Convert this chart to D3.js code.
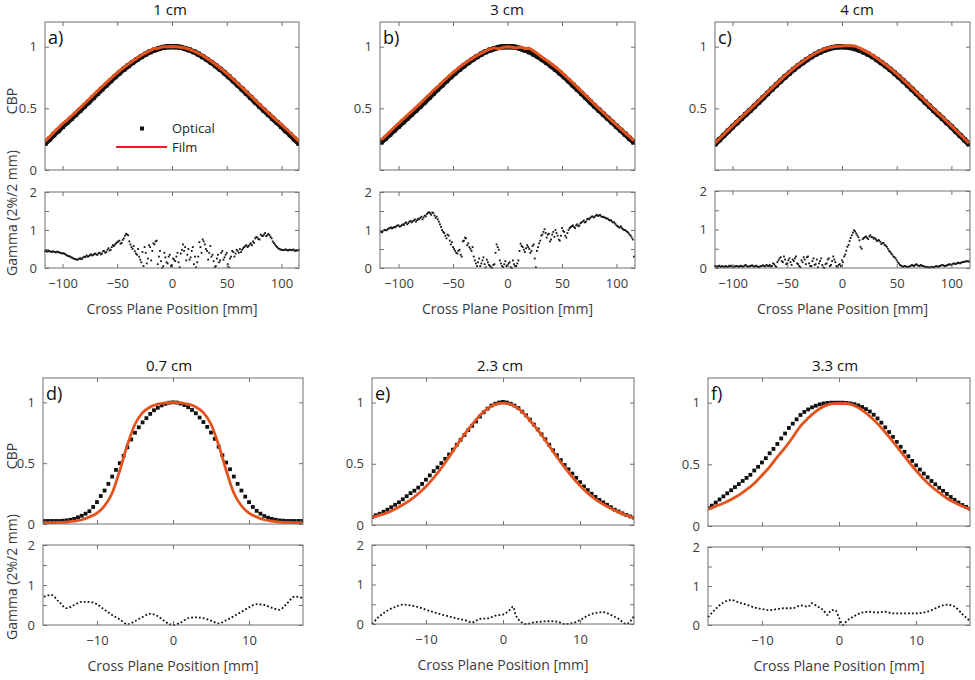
<!DOCTYPE html>
<html><head><meta charset="utf-8">
<script src="https://cdn.jsdelivr.net/npm/d3@7"></script>
<style>
body{margin:0;background:#fff}
text{font-family:"Open Sans","Noto Sans",sans-serif}
</style>
</head><body>
<script>
// ---------------- DATA ----------------
// wide profiles (1, 3, 4 cm), positions in mm
const posWide = [-116,-112,-108,-104,-100,-96,-92,-88,-84,-80,-76,-72,-68,-64,-60,-56,-52,-48,-44,-40,-36,-32,-28,-24,-20,-16,-12,-8,-4,0,4,8,12,16,20,24,28,32,36,40,44,48,52,56,60,64,68,72,76,80,84,88,92,96,100,104,108,112,116];
const opticalA = [0.215,0.25,0.285,0.318,0.352,0.385,0.418,0.451,0.484,0.518,0.552,0.587,0.622,0.656,0.69,0.723,0.756,0.787,0.817,0.845,0.871,0.896,0.919,0.94,0.958,0.973,0.985,0.994,0.999,1.0,0.999,0.994,0.985,0.973,0.958,0.94,0.919,0.896,0.871,0.845,0.817,0.787,0.756,0.723,0.69,0.656,0.622,0.587,0.552,0.518,0.484,0.451,0.418,0.385,0.352,0.318,0.285,0.25,0.215];
const filmA = [0.232,0.268,0.305,0.34,0.375,0.405,0.437,0.47,0.503,0.537,0.572,0.607,0.641,0.675,0.708,0.741,0.773,0.803,0.832,0.858,0.884,0.907,0.93,0.95,0.968,0.985,0.988,1.0,1.0,1.002,1.0,0.996,0.99,0.978,0.964,0.947,0.928,0.905,0.881,0.855,0.827,0.798,0.767,0.735,0.702,0.668,0.634,0.6,0.565,0.53,0.497,0.463,0.43,0.398,0.367,0.335,0.302,0.268,0.232];
const opticalB = [0.225,0.257,0.29,0.322,0.355,0.387,0.42,0.452,0.485,0.518,0.552,0.587,0.622,0.656,0.69,0.723,0.756,0.787,0.817,0.845,0.871,0.896,0.919,0.94,0.958,0.973,0.985,0.994,0.999,1.0,0.999,0.994,0.985,0.973,0.958,0.94,0.919,0.896,0.871,0.845,0.817,0.787,0.756,0.723,0.69,0.656,0.622,0.587,0.552,0.518,0.485,0.452,0.42,0.387,0.355,0.322,0.29,0.257,0.225];
const filmB = [0.245,0.275,0.31,0.345,0.378,0.41,0.442,0.475,0.507,0.54,0.576,0.61,0.645,0.676,0.71,0.742,0.775,0.804,0.834,0.86,0.886,0.905,0.93,0.948,0.966,0.98,0.99,0.982,0.995,1.0,0.995,0.99,0.998,0.985,0.988,0.965,0.94,0.912,0.888,0.862,0.835,0.805,0.773,0.74,0.707,0.672,0.638,0.603,0.568,0.532,0.498,0.464,0.43,0.397,0.365,0.333,0.3,0.27,0.238];
const opticalC = [0.21,0.245,0.28,0.315,0.35,0.383,0.417,0.45,0.483,0.517,0.551,0.586,0.621,0.655,0.689,0.722,0.755,0.786,0.816,0.844,0.87,0.895,0.918,0.939,0.957,0.972,0.984,0.993,0.998,1.0,0.998,0.993,0.984,0.972,0.957,0.939,0.918,0.895,0.87,0.844,0.816,0.786,0.755,0.722,0.689,0.655,0.621,0.586,0.551,0.517,0.483,0.45,0.417,0.383,0.35,0.315,0.28,0.245,0.21];
const filmC = [0.218,0.253,0.288,0.323,0.358,0.392,0.426,0.459,0.492,0.526,0.56,0.595,0.63,0.664,0.698,0.731,0.764,0.795,0.825,0.853,0.879,0.904,0.926,0.947,0.965,0.98,0.992,1.0,1.003,1.005,1.01,1.008,1.005,0.99,0.972,0.952,0.93,0.906,0.88,0.853,0.825,0.795,0.764,0.731,0.698,0.664,0.63,0.595,0.56,0.526,0.492,0.459,0.426,0.392,0.358,0.323,0.288,0.253,0.218];

// gamma (2%/2 mm) for wide profiles, 1 mm steps
const posGammaWide = [-116,-115,-114,-113,-112,-111,-110,-109,-108,-107,-106,-105,-104,-103,-102,-101,-100,-99,-98,-97,-96,-95,-94,-93,-92,-91,-90,-89,-88,-87,-86,-85,-84,-83,-82,-81,-80,-79,-78,-77,-76,-75,-74,-73,-72,-71,-70,-69,-68,-67,-66,-65,-64,-63,-62,-61,-60,-59,-58,-57,-56,-55,-54,-53,-52,-51,-50,-49,-48,-47,-46,-45,-44,-43,-42,-41,-40,-39,-38,-37,-36,-35,-34,-33,-32,-31,-30,-29,-28,-27,-26,-25,-24,-23,-22,-21,-20,-19,-18,-17,-16,-15,-14,-13,-12,-11,-10,-9,-8,-7,-6,-5,-4,-3,-2,-1,0,1,2,3,4,5,6,7,8,9,10,11,12,13,14,15,16,17,18,19,20,21,22,23,24,25,26,27,28,29,30,31,32,33,34,35,36,37,38,39,40,41,42,43,44,45,46,47,48,49,50,51,52,53,54,55,56,57,58,59,60,61,62,63,64,65,66,67,68,69,70,71,72,73,74,75,76,77,78,79,80,81,82,83,84,85,86,87,88,89,90,91,92,93,94,95,96,97,98,99,100,101,102,103,104,105,106,107,108,109,110,111,112,113,114,115,116];
const gammaA = [.44,.45,.43,.44,.45,.43,.42,.44,.43,.42,
.41,.43,.42,.41,.40,.39,.38,.39,.37,.35,
.33,.32,.31,.30,.28,.27,.25,.24,.23,.22,
.22,.24,.26,.23,.25,.28,.30,.29,.33,.30,
.31,.34,.36,.33,.34,.37,.38,.35,.35,.39,
.40,.36,.38,.44,.45,.40,.42,.48,.52,.46,
.48,.55,.60,.58,.62,.65,.68,.70,.72,.64,
.66,.74,.78,.85,.90,.88,.86,.70,.62,.55,
.50,.58,.44,.38,.35,.50,.30,.22,.15,.42,
.05,.55,.40,.12,.25,.60,.55,.20,.45,.65,
.62,.70,.72,.10,.30,.45,.18,.00,.05,.40,
.28,.15,.12,.30,.35,.05,.08,.25,.22,.18,
.30,.40,.15,.02,.38,.48,.62,.45,.55,.20,
.35,.50,.22,.28,.45,.55,.10,.30,.02,.15,
.30,.68,.55,.40,.75,.70,.62,.50,.45,.22,
.40,.58,.30,.35,.18,.02,.05,.25,.35,.15,
.20,.40,.45,.22,.28,.35,.40,.10,.02,.25,
.30,.45,.42,.30,.38,.48,.45,.40,.50,.42,
.48,.52,.55,.58,.60,.55,.58,.62,.65,.60,
.70,.66,.78,.82,.80,.76,.75,.88,.85,.84,
.88,.92,.84,.86,.90,.87,.82,.78,.70,.66,
.62,.58,.55,.52,.50,.49,.48,.47,.47,.48,
.49,.47,.46,.48,.48,.47,.47,.49,.45,.46,
.46,.47,.48];
const gammaB = [.95,.94,.98,1.00,1.00,.99,1.02,1.04,1.05,1.07,
1.04,1.06,1.08,1.07,1.10,1.12,1.12,1.09,1.10,1.13,
1.15,1.13,1.18,1.20,1.15,1.18,1.22,1.24,1.20,1.23,
1.25,1.28,1.22,1.26,1.30,1.28,1.32,1.35,1.28,1.33,
1.38,1.36,1.42,1.45,1.47,1.44,1.40,1.46,1.45,1.38,
1.32,1.35,1.28,1.22,1.15,1.08,1.00,.95,.92,.85,
.78,.88,.85,.72,.62,.68,.55,.50,.45,.40,
.38,.45,.48,.35,.30,.70,.72,.80,.78,.60,
.65,.55,.50,.45,.55,.30,.20,.12,.05,.15,
.25,.05,.12,.20,.28,.10,.02,.22,.15,.08,
.05,.02,.00,.08,.10,.40,.62,.55,.48,.20,
.12,.05,.02,.10,.18,.05,.08,.12,.15,.02,
.00,.20,.10,.05,.05,.12,.20,.45,.64,.58,
.55,.48,.42,.52,.60,.55,.50,.40,.45,.58,
.62,.25,.02,.45,.55,.65,.72,.85,.88,.95,
1.02,.92,.80,.88,.90,.70,.75,.88,.95,.82,
1.00,.92,.85,.75,.72,.85,1.05,.98,.95,.85,
.80,.92,1.00,1.05,1.08,1.10,1.12,1.08,1.05,1.12,
1.15,1.10,1.12,1.18,1.20,1.22,1.25,1.20,1.22,1.28,
1.30,1.28,1.32,1.35,1.36,1.33,1.35,1.38,1.40,1.37,
1.38,1.40,1.36,1.34,1.35,1.33,1.32,1.30,1.30,1.27,
1.25,1.26,1.22,1.20,1.20,1.16,1.12,1.10,1.08,1.06,
1.10,1.05,1.02,1.00,1.00,.97,.95,.92,.88,.85,
.80,.75,.30];
const gammaC = [.05,.04,.03,.05,.06,.03,.04,.05,.02,.04,
.05,.03,.03,.06,.04,.06,.02,.03,.04,.05,
.05,.04,.03,.05,.06,.03,.04,.06,.08,.05,
.03,.04,.05,.06,.07,.04,.04,.05,.06,.03,
.02,.04,.05,.06,.07,.05,.04,.08,.06,.05,
.08,.04,.05,.12,.10,.06,.03,.15,.20,.25,
.28,.18,.15,.30,.22,.10,.12,.20,.25,.15,
.08,.22,.18,.25,.30,.12,.10,.05,.02,.20,
.15,.28,.22,.10,.28,.30,.12,.05,.05,.18,
.25,.08,.10,.22,.02,.12,.18,.25,.08,.02,
.00,.10,.12,.22,.25,.05,.08,.18,.30,.22,
.15,.05,.02,.08,.10,.05,.20,.15,.30,.35,
.45,.55,.60,.70,.78,.85,.92,.98,.95,.90,
.85,.80,.72,.55,.50,.75,.78,.80,.82,.78,
.75,.82,.85,.80,.80,.76,.78,.74,.70,.72,
.72,.68,.62,.65,.65,.60,.58,.55,.50,.45,
.42,.38,.35,.30,.28,.25,.20,.15,.12,.08,
.06,.04,.03,.05,.05,.03,.02,.04,.04,.06,
.08,.06,.05,.08,.10,.07,.06,.05,.08,.06,
.05,.04,.03,.03,.02,.02,.01,.02,.03,.02,
.02,.03,.05,.04,.03,.05,.06,.07,.08,.06,
.05,.06,.07,.08,.10,.09,.08,.10,.12,.11,
.10,.12,.14,.13,.12,.14,.15,.16,.16,.17,
.18,.17,.17];

// narrow profiles (0.7, 2.3, 3.3 cm)
const posNarrowOptical = [-17,-16.5,-16,-15.5,-15,-14.5,-14,-13.5,-13,-12.5,-12,-11.5,-11,-10.5,-10,-9.5,-9,-8.5,-8,-7.5,-7,-6.5,-6,-5.5,-5,-4.5,-4,-3.5,-3,-2.5,-2,-1.5,-1,-0.5,0,0.5,1,1.5,2,2.5,3,3.5,4,4.5,5,5.5,6,6.5,7,7.5,8,8.5,9,9.5,10,10.5,11,11.5,12,12.5,13,13.5,14,14.5,15,15.5,16,16.5,17];
const posNarrowFilm = [-17,-16,-15,-14,-13,-12,-11,-10,-9,-8,-7,-6,-5,-4,-3,-2,-1,0,1,2,3,4,5,6,7,8,9,10,11,12,13,14,15,16,17];
const opticalD = [0.025,0.025,0.025,0.025,0.025,0.027,0.03,0.035,0.042,0.055,0.068,0.085,0.105,0.14,0.18,0.23,0.275,0.33,0.39,0.445,0.50,0.56,0.63,0.695,0.75,0.795,0.835,0.87,0.905,0.935,0.955,0.975,0.988,0.997,1.0,0.998,0.99,0.978,0.96,0.937,0.91,0.875,0.838,0.798,0.752,0.70,0.635,0.565,0.505,0.45,0.39,0.33,0.275,0.225,0.18,0.14,0.108,0.085,0.066,0.052,0.042,0.035,0.03,0.027,0.025,0.025,0.025,0.025,0.025];
const filmD = [0.012,0.012,0.013,0.016,0.024,0.035,0.058,0.09,0.15,0.255,0.44,0.65,0.82,0.915,0.962,0.985,0.996,1.0,0.996,0.985,0.962,0.915,0.82,0.65,0.44,0.255,0.15,0.09,0.058,0.035,0.024,0.016,0.013,0.012,0.012];
const opticalE = [0.065,0.08,0.092,0.108,0.125,0.145,0.165,0.185,0.21,0.235,0.26,0.28,0.305,0.335,0.37,0.405,0.44,0.47,0.505,0.54,0.575,0.615,0.655,0.695,0.735,0.775,0.81,0.845,0.885,0.92,0.95,0.975,0.99,1.0,1.005,1.0,0.99,0.975,0.955,0.925,0.895,0.86,0.82,0.78,0.74,0.70,0.655,0.61,0.57,0.53,0.49,0.455,0.42,0.385,0.35,0.315,0.285,0.255,0.23,0.205,0.185,0.165,0.145,0.125,0.11,0.095,0.082,0.07,0.06];
const filmE = [0.06,0.08,0.10,0.13,0.165,0.205,0.255,0.315,0.385,0.465,0.555,0.65,0.74,0.82,0.895,0.95,0.985,0.995,0.985,0.95,0.89,0.815,0.735,0.645,0.555,0.47,0.39,0.32,0.26,0.21,0.17,0.135,0.105,0.08,0.06];
const opticalF = [0.145,0.165,0.19,0.215,0.24,0.265,0.29,0.315,0.34,0.365,0.39,0.415,0.45,0.48,0.515,0.55,0.59,0.625,0.665,0.71,0.75,0.795,0.83,0.865,0.9,0.925,0.945,0.962,0.975,0.987,0.994,0.998,1.0,1.0,1.0,1.0,0.998,0.994,0.988,0.978,0.965,0.948,0.928,0.902,0.872,0.838,0.8,0.762,0.722,0.682,0.642,0.602,0.565,0.528,0.492,0.458,0.425,0.395,0.365,0.338,0.31,0.285,0.26,0.235,0.212,0.19,0.17,0.155,0.14];
const filmF = [0.135,0.16,0.185,0.215,0.25,0.295,0.345,0.41,0.48,0.56,0.635,0.72,0.81,0.875,0.93,0.97,0.99,0.995,0.995,0.975,0.94,0.89,0.83,0.76,0.685,0.605,0.525,0.45,0.38,0.32,0.27,0.225,0.19,0.16,0.135];

const posGammaD = [-17,-16,-15,-14,-13,-12,-11,-10,-9,-8,-7,-6,-5,-4,-3,-2,-1,0,1,2,3,4,5,6,7,8,9,10,11,12,13,14,15,16,17];
const gammaD = [0.71,0.75,0.58,0.42,0.5,0.58,0.58,0.52,0.38,0.25,0.14,0.02,0.1,0.2,0.28,0.22,0.08,0.0,0.06,0.17,0.19,0.17,0.11,0.04,0.12,0.22,0.33,0.44,0.52,0.5,0.43,0.38,0.54,0.71,0.68];
const posGammaE = [-17,-16,-15,-14,-13,-12,-11,-10,-9,-8,-7,-6,-5,-4,-3,-2,-1,0,1,1.3,1.7,3,4,5,6,7,8,9,10,11,12,13,14,15,16,17];
const gammaE = [0,0.2,0.34,0.43,0.49,0.47,0.43,0.36,0.3,0.24,0.19,0.14,0.1,0.04,0.13,0.14,0.21,0.24,0.38,0.44,0.2,0,0.04,0.06,0.07,0.06,0,0.02,0.1,0.21,0.28,0.3,0.23,0.13,0,0.2];
const posGammaF = [-17,-16,-15,-14,-13,-12,-11,-10,-9,-8,-7,-6,-5,-4,-3.5,-3,-2,-1.5,-1,-0.5,0,0.5,1,2,3,4,5,6,7,8,9,10,11,12,13,14,15,16,17];
const gammaF = [0.2,0.41,0.58,0.64,0.58,0.52,0.45,0.41,0.38,0.41,0.43,0.43,0.5,0.47,0.56,0.5,0.37,0.26,0.38,0.38,0.19,0,0.1,0.23,0.32,0.34,0.32,0.34,0.3,0.3,0.3,0.3,0.32,0.38,0.47,0.52,0.47,0.28,0.1];

const titles = ["1 cm","3 cm","4 cm","0.7 cm","2.3 cm","3.3 cm"];
const letters = ["a)","b)","c)","d)","e)","f)"];
const xTicksWide = [-100,-50,0,50,100];
const xTicksNarrow = [-10,0,10];
const yTicksCBP = [0,0.5,1];
const yTicksGamma = [0,0.5,1,1.5,2];
const legendLabels = ["Optical","Film"];
const xLabel = "Cross Plane Position [mm]";
const yLabelTop = "CBP";
const yLabelBottom = "Gamma (2%/2 mm)";

// ---------------- LAYOUT ----------------
const AX = "#6f6f6f", TXT = "#3a3a3a", FILM = "#e4531e", LEG_RED = "#ee1c24";
const svg = d3.select("body").append("svg").attr("width",975).attr("height",680);

const panels = [
  {k:0, wide:true, x0:45, x1:299, top:[22,170], bot:[192,268], xd:[-116,116], titleX:170, pos:posWide, opt:opticalA, film:filmA, gpos:posGammaWide, gam:gammaA, zeroLbl:true, ylab:true},
  {k:1, wide:true, x0:380, x1:635, top:[22,170], bot:[192,268], xd:[-117,117], titleX:507, pos:posWide, opt:opticalB, film:filmB, gpos:posGammaWide, gam:gammaB, zeroLbl:false},
  {k:2, wide:true, x0:715, x1:970, top:[22,170], bot:[191,268], xd:[-116,117], titleX:857, pos:posWide, opt:opticalC, film:filmC, gpos:posGammaWide, gam:gammaC, zeroLbl:false},
  {k:3, wide:false, x0:43, x1:303, top:[378,524], bot:[545,625], xd:[-17.1,17.1], titleX:169, opos:posNarrowOptical, fpos:posNarrowFilm, opt:opticalD, film:filmD, gpos:posGammaD, gam:gammaD, zeroLbl:true, ylab:true},
  {k:4, wide:false, x0:372, x1:634, top:[378,525], bot:[545,624], xd:[-17,17], titleX:500, opos:posNarrowOptical, fpos:posNarrowFilm, opt:opticalE, film:filmE, gpos:posGammaE, gam:gammaE, zeroLbl:true},
  {k:5, wide:false, x0:708, x1:970, top:[378,526], bot:[547,625], xd:[-17,17], titleX:835, opos:posNarrowOptical, fpos:posNarrowFilm, opt:opticalF, film:filmF, gpos:posGammaF, gam:gammaF, zeroLbl:true}
];

function frame(g, x, y, xt, yt, yfmt, showX) {
  const [xa, xb] = x.range(), [ya, yb] = y.range();
  const style = s => {
    s.select(".domain").remove();
    s.selectAll(".tick line").attr("stroke", AX);
    s.selectAll(".tick text").attr("fill", TXT).style("font-size","13px").style("font-family",'"Open Sans",sans-serif');
  };
  g.append("g").attr("transform",`translate(0,${ya})`)
    .call(d3.axisBottom(x).tickValues(xt).tickSize(-4).tickPadding(11).tickFormat(showX ? d3.format("d") : ""))
    .call(style);
  g.append("g").attr("transform",`translate(0,${yb})`)
    .call(d3.axisTop(x).tickValues(xt).tickSize(-4).tickFormat("")).call(style);
  g.append("g").attr("transform",`translate(${xa},0)`)
    .call(d3.axisLeft(y).tickValues(yt).tickSize(-4).tickPadding(8).tickFormat(yfmt)).call(style);
  g.append("g").attr("transform",`translate(${xb},0)`)
    .call(d3.axisRight(y).tickValues(yt).tickSize(-4).tickFormat("")).call(style);
  g.append("rect").attr("x",xa).attr("y",yb).attr("width",xb-xa).attr("height",ya-yb)
    .attr("fill","none").attr("stroke",AX).attr("stroke-width",1);
}

panels.forEach(p => {
  const g = svg.append("g");
  const x = d3.scaleLinear().domain(p.xd).range([p.x0, p.x1]);
  const yT = d3.scaleLinear().domain([0,1.2]).range([p.top[1], p.top[0]]);
  const yB = d3.scaleLinear().domain([0,2]).range([p.bot[1], p.bot[0]]);

  const cid = "clip" + p.k;
  const defs = g.append("defs");
  defs.append("clipPath").attr("id", cid+"t").append("rect")
    .attr("x",p.x0).attr("y",p.top[0]).attr("width",p.x1-p.x0).attr("height",p.top[1]-p.top[0]);
  defs.append("clipPath").attr("id", cid+"b").append("rect")
    .attr("x",p.x0-1).attr("y",p.bot[0]).attr("width",p.x1-p.x0+2).attr("height",p.bot[1]-p.bot[0]+1);

  // ---- top profile plot ----
  const gt = g.append("g").attr("clip-path",`url(#${cid}t)`);
  if (p.wide) {
    const pts = p.pos.map((v,i)=>[v,p.opt[i]]);
    gt.append("path").datum(pts)
      .attr("d", d3.line().x(d=>x(d[0])).y(d=>yT(d[1])).curve(d3.curveCatmullRom))
      .attr("fill","none").attr("stroke","#111").attr("stroke-width",5.5).attr("stroke-linejoin","round");
    gt.selectAll("rect.opt").data(pts).enter().append("rect")
      .attr("x",d=>x(d[0])-2.5).attr("y",d=>yT(d[1])-2.5).attr("width",5).attr("height",5).attr("fill","#111");
    const fpts = p.pos.map((v,i)=>[v,p.film[i]]);
    gt.append("path").datum(fpts)
      .attr("d", d3.line().x(d=>x(d[0])).y(d=>yT(d[1])).curve(d3.curveLinear))
      .attr("fill","none").attr("stroke",FILM).attr("stroke-width",3).attr("stroke-linejoin","round");
  } else {
    const pts = p.opos.map((v,i)=>[v,p.opt[i]]);
    gt.selectAll("rect.opt").data(pts).enter().append("rect")
      .attr("x",d=>x(d[0])-1.9).attr("y",d=>yT(d[1])-1.9).attr("width",3.8).attr("height",3.8).attr("fill","#111");
    const fpts = p.fpos.map((v,i)=>[v,p.film[i]]);
    gt.append("path").datum(fpts)
      .attr("d", d3.line().x(d=>x(d[0])).y(d=>yT(d[1])).curve(d3.curveMonotoneX))
      .attr("fill","none").attr("stroke",FILM).attr("stroke-width",2.8);
  }
  frame(g, x, yT, p.wide ? xTicksWide : xTicksNarrow, yTicksCBP,
        d => (d===0 && !p.zeroLbl) ? "" : d3.format("")(d), false);

  // ---- gamma plot ----
  const gb = g.append("g").attr("clip-path",`url(#${cid}b)`);
  const gpts = p.gpos.map((v,i)=>[v,p.gam[i]]);
  if (p.wide) {
    gb.selectAll("rect.g").data(gpts).enter().append("rect")
      .attr("x",d=>x(d[0])-0.9).attr("y",d=>yB(d[1])-0.9).attr("width",1.8).attr("height",1.8).attr("fill","#111");
  } else {
    gb.append("path").datum(gpts)
      .attr("d", d3.line().x(d=>x(d[0])).y(d=>yB(d[1])).curve(d3.curveMonotoneX))
      .attr("fill","none").attr("stroke","#111").attr("stroke-width",1.8).attr("stroke-dasharray","1.8 2.1");
  }
  frame(g, x, yB, p.wide ? xTicksWide : xTicksNarrow, yTicksGamma,
        d => Number.isInteger(d) ? String(d) : "", true);

  // ---- texts ----
  g.append("text").attr("x",p.titleX).attr("y",p.top[0]-7).attr("text-anchor","middle")
    .attr("fill","#111").style("font-size","15px").text(titles[p.k]);
  g.append("text").attr("x",p.x0+3).attr("y",p.top[0]+22).attr("fill","#111")
    .style("font-size","18px").text(letters[p.k]);
  g.append("text").attr("x",(p.x0+p.x1)/2).attr("y",p.bot[1]+46).attr("text-anchor","middle")
    .attr("fill",TXT).style("font-size","14px").text(xLabel);
  if (p.ylab) {
    const cy = p.k===0 ? 101 : 456, gy = p.k===0 ? 213 : 577;
    g.append("text").attr("transform",`translate(12,${cy}) rotate(-90)`).attr("text-anchor","middle")
      .attr("dy","0.35em").attr("fill",TXT).style("font-size","14px").text(yLabelTop);
    g.append("text").attr("transform",`translate(12,${gy}) rotate(-90)`).attr("text-anchor","middle")
      .attr("dy","0.35em").attr("fill",TXT).style("font-size","14px").text(yLabelBottom);
  }
});

// ---- legend (panel a) ----
const lg = svg.append("g");
lg.append("rect").attr("x",140).attr("y",126.5).attr("width",4).attr("height",4).attr("fill","#111");
lg.append("line").attr("x1",116).attr("x2",167).attr("y1",147).attr("y2",147).attr("stroke",LEG_RED).attr("stroke-width",2);
lg.append("text").attr("x",172).attr("y",133).attr("fill","#222").style("font-size","13px").text(legendLabels[0]);
lg.append("text").attr("x",172).attr("y",152).attr("fill","#222").style("font-size","13px").text(legendLabels[1]);
</script>
</body></html>
